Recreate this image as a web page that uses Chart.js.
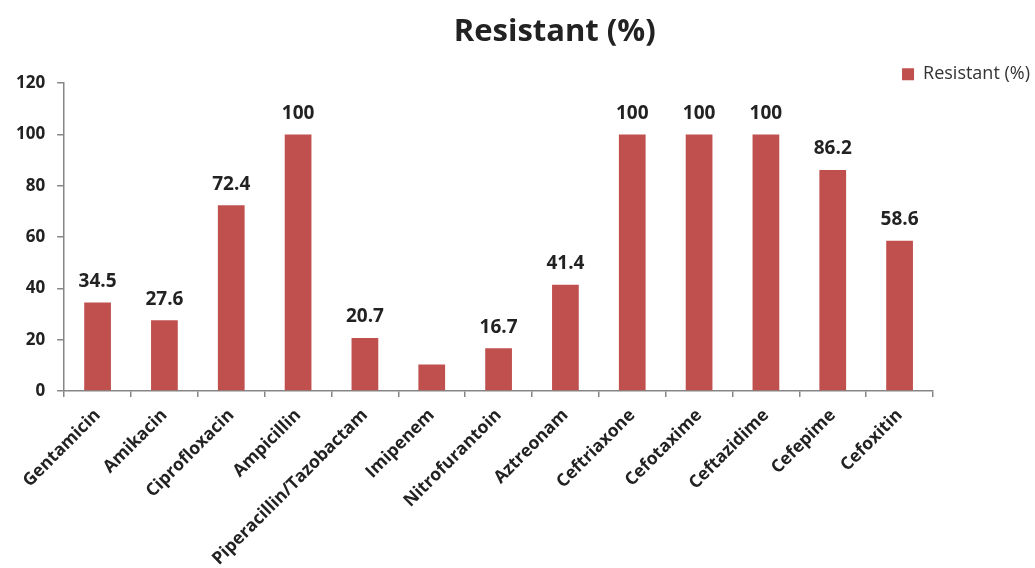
<!DOCTYPE html>
<html>
<head>
<meta charset="utf-8">
<title>Resistant (%)</title>
<script src="https://cdn.jsdelivr.net/npm/chart.js@4/dist/chart.umd.min.js"></script>
<style>
  html, body { margin: 0; padding: 0; background: #ffffff; }
  #wrap { width: 1035px; height: 568px; position: relative; }
</style>
</head>
<body>
<div id="wrap"><canvas id="chart"></canvas></div>
<script>
// Antibiotics tested
const antibiotics = [
  'Gentamicin', 'Amikacin', 'Ciprofloxacin', 'Ampicillin',
  'Piperacillin/Tazobactam', 'Imipenem', 'Nitrofurantoin', 'Aztreonam',
  'Ceftriaxone', 'Cefotaxime', 'Ceftazidime', 'Cefepime', 'Cefoxitin'
];

// Share of isolates resistant to each antibiotic (%)
const resistant = [34.5, 27.6, 72.4, 100, 20.7, 10.3, 16.7, 41.4, 100, 100, 100, 86.2, 58.6];

// Bars that carry no value label
const unlabelled = ['Imipenem'];

// Value axis ticks
const yTicks = [0, 20, 40, 60, 80, 100, 120];

const FONT = "'Open Sans', 'DejaVu Sans', sans-serif";
const TEXT = '#222222';
const AXIS = '#868686';
const BAR = '#C0504D';

// Value labels above the bars
const valueLabels = {
  id: 'valueLabels',
  afterDatasetsDraw(chart) {
    const ctx = chart.ctx;
    const meta = chart.getDatasetMeta(0);
    ctx.save();
    ctx.font = 'bold 19px ' + FONT;
    ctx.fillStyle = TEXT;
    ctx.textAlign = 'center';
    ctx.textBaseline = 'middle';
    meta.data.forEach((bar, i) => {
      if (unlabelled.includes(antibiotics[i])) return;
      ctx.fillText(String(resistant[i]), bar.x, bar.y - 21);
    });
    ctx.restore();
  }
};

// Title sits slightly right of centre, legend at the top right corner
const headerPlacement = {
  id: 'headerPlacement',
  afterLayout(chart) {
    const tb = chart.titleBlock;
    if (tb) {
      const cx = chart.width * 0.536;
      const half = Math.min(cx, chart.width - cx);
      tb.left = cx - half;
      tb.right = cx + half;
    }
    const lg = chart.legend;
    if (lg) {
      lg.right = chart.width - 5;
      lg.top += 10;
      lg.bottom += 10;
    }
  }
};

new Chart(document.getElementById('chart'), {
  type: 'bar',
  data: {
    labels: antibiotics,
    datasets: [{
      label: 'Resistant (%)',
      data: resistant,
      backgroundColor: BAR,
      borderWidth: 0,
      categoryPercentage: 1.0,
      barPercentage: 0.4
    }]
  },
  options: {
    responsive: true,
    maintainAspectRatio: false,
    animation: false,
    layout: { padding: { left: 4, right: 102, top: 0, bottom: 0 } },
    plugins: {
      title: {
        display: true,
        text: 'Resistant (%)',
        color: TEXT,
        font: { family: FONT, size: 31, weight: 'bold' },
        padding: { top: 14, bottom: 4 }
      },
      legend: {
        display: true,
        position: 'top',
        align: 'end',
        labels: {
          boxWidth: 12,
          boxHeight: 12,
          padding: 0,
          color: '#333333',
          font: { family: FONT, size: 18 }
        }
      },
      tooltip: { enabled: false }
    },
    scales: {
      x: {
        afterFit(scale) {
          // room under the axis for the slanted names
          scale.height = 177;
        },
        grid: {
          display: true,
          offset: true,
          drawOnChartArea: false,
          drawTicks: true,
          tickLength: 6,
          color: AXIS,
          lineWidth: 1.5
        },
        border: { display: true, color: AXIS, width: 1.5 },
        ticks: {
          color: TEXT,
          font: { family: FONT, size: 17.5, weight: 'bold' },
          minRotation: 45,
          maxRotation: 45,
          autoSkip: false,
          padding: 8
        }
      },
      y: {
        min: 0,
        max: 120,
        afterBuildTicks(scale) {
          scale.ticks = yTicks.map(v => ({ value: v }));
        },
        grid: {
          display: true,
          drawOnChartArea: false,
          drawTicks: true,
          tickLength: 7,
          color: AXIS,
          lineWidth: 1.5
        },
        border: { display: true, color: AXIS, width: 1.5 },
        ticks: {
          color: TEXT,
          font: { family: FONT, size: 17, weight: 'bold' },
          padding: 12
        }
      }
    }
  },
  plugins: [valueLabels, headerPlacement]
});
</script>
</body>
</html>
